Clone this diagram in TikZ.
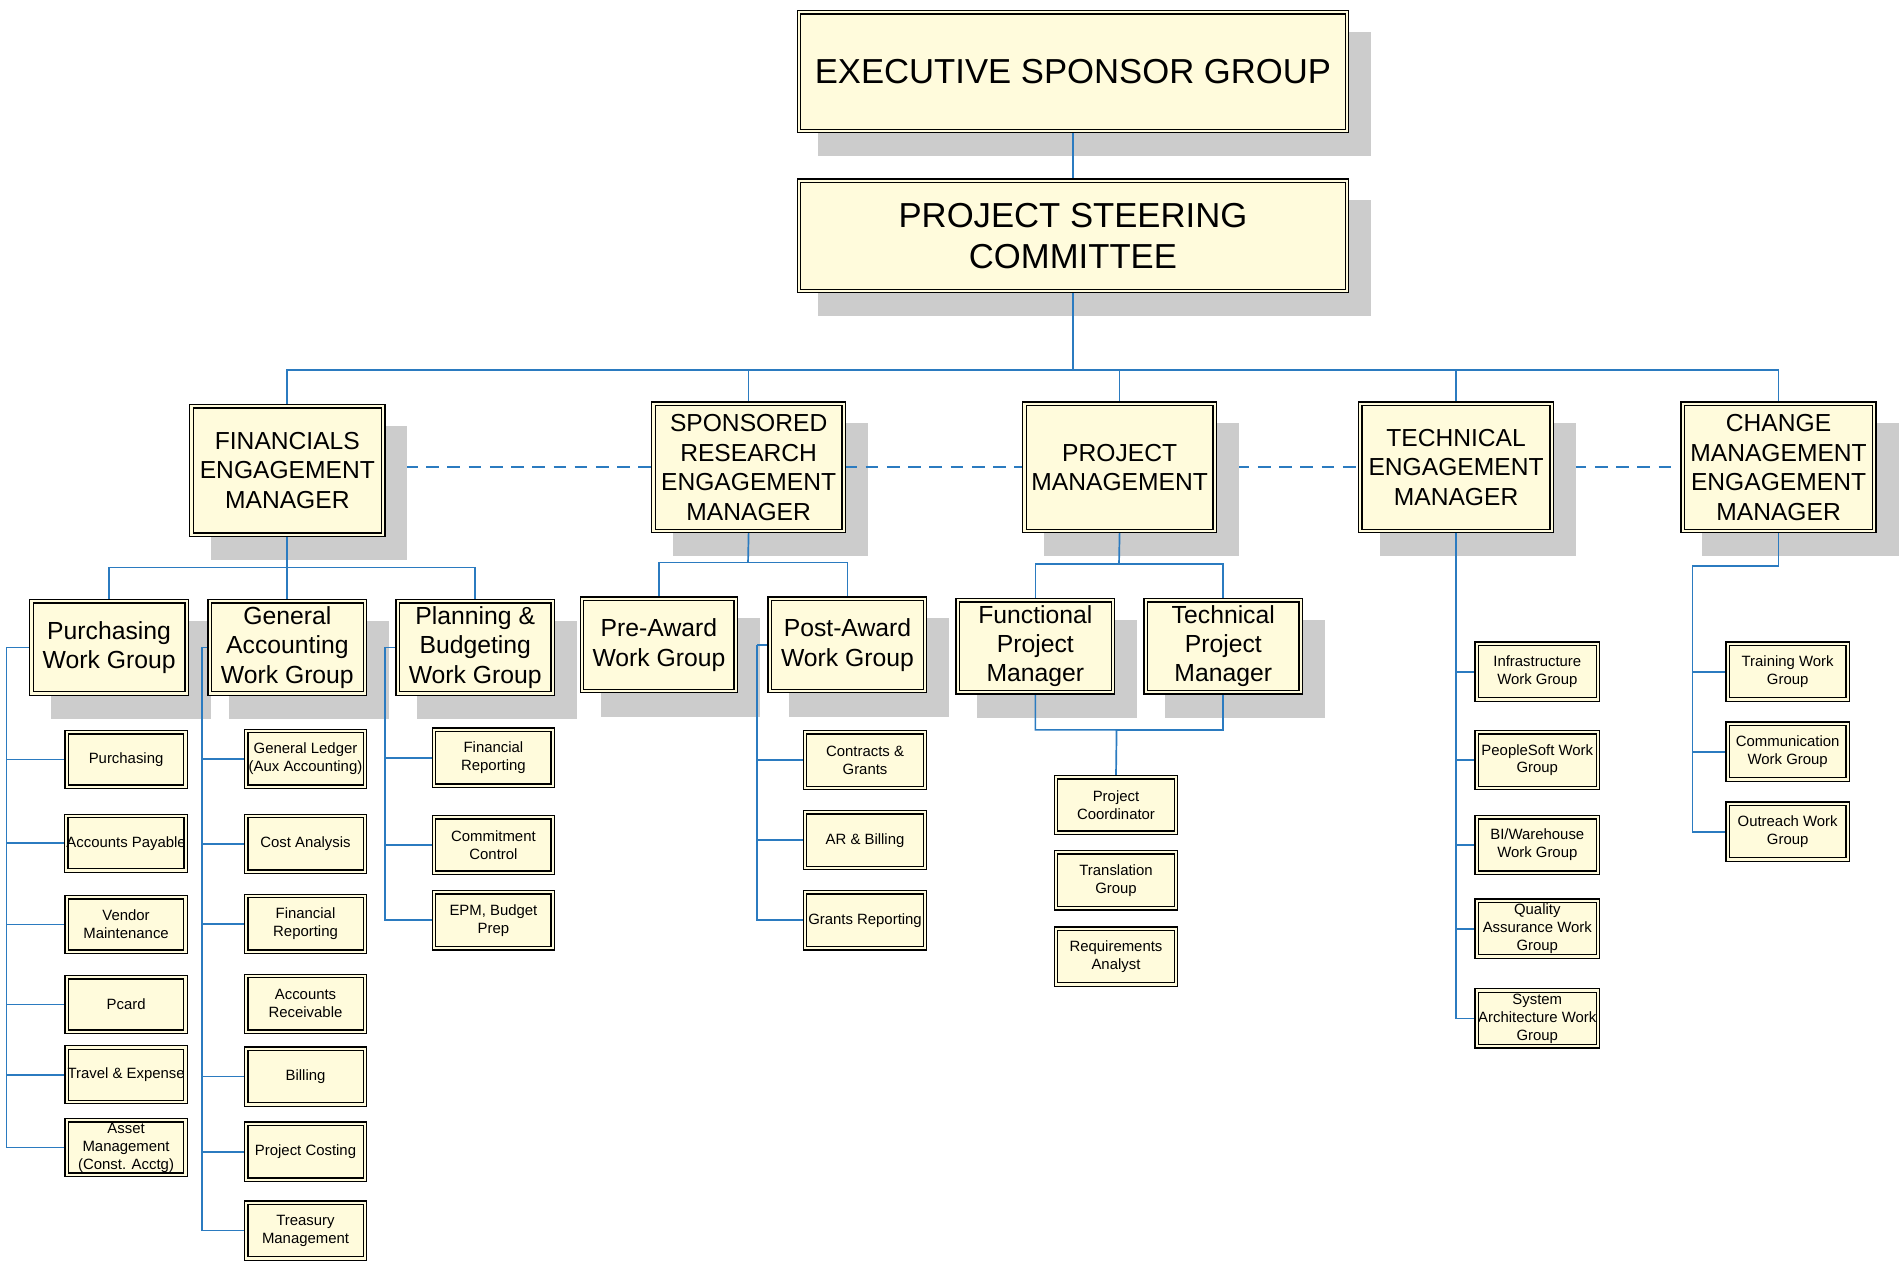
\documentclass[tikz,border=0pt]{standalone}
\usepackage{fontspec}
\setmainfont{Liberation Sans}
\definecolor{cream}{HTML}{FFFBDC}
\definecolor{shadowgray}{HTML}{CCCCCC}
\definecolor{lineblue}{HTML}{2B7BC0}
\pgfdeclarelayer{bglayer}
\pgfdeclarelayer{shadowlayer}
\pgfdeclarelayer{linelayer}
\pgfsetlayers{bglayer,shadowlayer,linelayer,main}
\tikzset{
  boxbase/.style={draw=black, line width=1.1pt, double=cream, double distance=1.8pt,
    fill=cream, align=center, inner sep=0pt, text=black},
  topbox/.style={boxbase, font=\fontsize{28.6}{34}\selectfont},
  midbox/.style={boxbase, font=\fontsize{20.3}{24.4}\selectfont},
  grpbox/.style={boxbase, font=\fontsize{20.4}{24.2}\selectfont},
  leafbox/.style={boxbase, font=\fontsize{12.3}{14.8}\selectfont},
  conn/.style={draw=lineblue, line width=1.4pt},
  connthick/.style={draw=lineblue, line width=2pt},
  dashconn/.style={draw=lineblue, line width=1.3pt, dash pattern=on 10.5pt off 7pt},
}
% name, style, x1, y1, x2, y2, text
\newcommand\bx[7]{\node[#2, minimum width={(#5-#3-4)*1pt}, minimum height={(#6-#4-4)*1pt}] (#1) at ({(#3+#5)/2},{(#4+#6)/2}) {#7};}
\newcommand\sbx[7]{\begin{pgfonlayer}{shadowlayer}\fill[shadowgray] ({#3+18},{#4+18}) rectangle ({#5+18},{#6+19});\end{pgfonlayer}\bx{#1}{#2}{#3}{#4}{#5}{#6}{#7}}
\begin{document}
\begin{tikzpicture}[x=1pt,y=-1pt]
\useasboundingbox (0,0) rectangle (1568,1046);
% top
\sbx{ESG}{topbox}{657}{8}{1113}{110}{EXECUTIVE SPONSOR GROUP}
\sbx{PSC}{topbox}{657}{147}{1113}{242}{PROJECT STEERING\\COMMITTEE}
% level 2
\sbx{FEM}{midbox}{156}{333}{318}{443}{FINANCIALS\\ENGAGEMENT\\MANAGER}
\sbx{SREM}{midbox}{537}{331}{698}{440}{SPONSORED\\RESEARCH\\ENGAGEMENT\\MANAGER}
\sbx{PM}{midbox}{843}{331}{1004}{440}{PROJECT\\MANAGEMENT}
\sbx{TEM}{midbox}{1120}{331}{1282}{440}{TECHNICAL\\ENGAGEMENT\\MANAGER}
\sbx{CMEM}{midbox}{1386}{331}{1548}{440}{CHANGE\\MANAGEMENT\\ENGAGEMENT\\MANAGER}
% level 3
\sbx{PWG}{grpbox}{24}{494}{156}{574}{Purchasing\\Work Group}
\sbx{GAWG}{grpbox}{171}{494}{303}{574}{General\\Accounting\\Work Group}
\sbx{PBWG}{grpbox}{326}{494}{458}{574}{Planning \&\\Budgeting\\Work Group}
\sbx{PAWG}{grpbox}{478}{492}{609}{572}{Pre-Award\\Work Group}
\sbx{POWG}{grpbox}{633}{492}{765}{572}{Post-Award\\Work Group}
\sbx{FPM}{grpbox}{788}{493}{920}{573}{Functional\\Project\\Manager}
\sbx{TPM}{grpbox}{943}{493}{1075}{573}{Technical\\Project\\Manager}
% purchasing leaves
\bx{pu1}{leafbox}{53}{602}{155}{651}{Purchasing}
\bx{pu2}{leafbox}{53}{671}{155}{720}{Accounts Payable}
\bx{pu3}{leafbox}{53}{738}{155}{787}{Vendor\\Maintenance}
\bx{pu4}{leafbox}{53}{804}{155}{853}{Pcard}
\bx{pu5}{leafbox}{53}{862}{155}{911}{Travel \& Expense}
\bx{pu6}{leafbox}{53}{922}{155}{971}{Asset\\Management\\(Const. Acctg)}
% general accounting leaves
\bx{ga1}{leafbox}{201}{601}{303}{651}{General Ledger\\(Aux Accounting)}
\bx{ga2}{leafbox}{201}{671}{303}{721}{Cost Analysis}
\bx{ga3}{leafbox}{201}{737}{303}{787}{Financial\\Reporting}
\bx{ga4}{leafbox}{201}{803}{303}{853}{Accounts\\Receivable}
\bx{ga5}{leafbox}{201}{863}{303}{913}{Billing}
\bx{ga6}{leafbox}{201}{925}{303}{975}{Project Costing}
\bx{ga7}{leafbox}{201}{990}{303}{1040}{Treasury\\Management}
% planning leaves
\bx{pb1}{leafbox}{356}{600}{458}{650}{Financial\\Reporting}
\bx{pb2}{leafbox}{356}{672}{458}{722}{Commitment\\Control}
\bx{pb3}{leafbox}{356}{734}{458}{784}{EPM, Budget\\Prep}
% post-award leaves
\bx{po1}{leafbox}{662}{602}{765}{652}{Contracts \&\\Grants}
\bx{po2}{leafbox}{662}{668}{765}{718}{AR \& Billing}
\bx{po3}{leafbox}{662}{734}{765}{784}{Grants Reporting}
% project management leaves
\bx{pm1}{leafbox}{869}{639}{972}{689}{Project\\Coordinator}
\bx{pm2}{leafbox}{869}{701}{972}{751}{Translation\\Group}
\bx{pm3}{leafbox}{869}{764}{972}{814}{Requirements\\Analyst}
% technical leaves
\bx{te1}{leafbox}{1216}{529}{1320}{579}{Infrastructure\\Work Group}
\bx{te2}{leafbox}{1216}{602}{1320}{652}{PeopleSoft Work\\Group}
\bx{te3}{leafbox}{1216}{672}{1320}{722}{BI/Warehouse\\Work Group}
\bx{te4}{leafbox}{1216}{741}{1320}{791}{Quality\\Assurance Work\\Group}
\bx{te5}{leafbox}{1216}{815}{1320}{865}{System\\Architecture Work\\Group}
% change management leaves
\bx{cm1}{leafbox}{1423}{529}{1526}{579}{Training Work\\Group}
\bx{cm2}{leafbox}{1423}{595}{1526}{645}{Communication\\Work Group}
\bx{cm3}{leafbox}{1423}{661}{1526}{711}{Outreach Work\\Group}
% junction coordinates
\coordinate (bus) at (885,305);
\coordinate (fb) at (237,468);
\coordinate (sb) at (617,464);
\coordinate (pb) at (923,465);
\coordinate (pmj) at (921,602);
\coordinate (cmj) at (1396,467);
\coordinate (dl) at (0,385);
% dashed lines
\begin{pgfonlayer}{bglayer}
\draw[dashconn] (FEM.east |- dl) -- (SREM.west |- dl);
\draw[dashconn] (PM.east |- dl) -- (TEM.west |- dl);
\draw[dashconn] (TEM.east |- dl) -- (CMEM.west |- dl);
\end{pgfonlayer}
\begin{pgfonlayer}{linelayer}
\draw[dashconn] (SREM.east |- dl) -- (PM.west |- dl);
% top
\draw[conn] (ESG.south) -- (PSC.north);
\draw[connthick] (PSC.south) -- (bus);
\draw[conn] (bus) -| (FEM.north);
\draw[conn] (bus) -| (SREM.north);
\draw[connthick] (bus) -- (bus -| CMEM.north);
\draw[conn] (bus -| PM.north) -- (PM.north);
\draw[conn] (bus -| TEM.north) -- (TEM.north);
\draw[conn] (bus -| CMEM.north) -- (CMEM.north);
% financials
\draw[conn] (FEM.south) -- (fb) -- (GAWG.north);
\draw[conn] (fb) -| (PWG.north);
\draw[conn] (fb) -| (PBWG.north);
% sponsored
\draw[conn] (SREM.south) -- (sb);
\draw[conn] (sb) -| (PAWG.north);
\draw[conn] (sb) -| (POWG.north);
% project management
\draw[conn] (PM.south) -- (pb);
\draw[conn] (pb) -| (FPM.north);
\draw[conn] (pb) -| (TPM.north);
\draw[conn] (FPM.south) |- (pmj) -- (pm1.north);
\draw[conn] (TPM.south) |- (pmj);
% purchasing
\draw[conn] (PWG.west) -- ++(-20,0) coordinate (pv);
\foreach \n in {pu1,pu2,pu3,pu4,pu5,pu6} \draw[conn] (pv) |- (\n.west);
% general accounting
\draw[conn] (GAWG.west) -- ++(-6,0) coordinate (gv);
\foreach \n in {ga1,ga2,ga3,ga5,ga6,ga7} \draw[conn] (gv) |- (\n.west);
% planning
\draw[conn] (PBWG.west) -- ++(-10,0) coordinate (bv);
\foreach \n in {pb1,pb2,pb3} \draw[conn] (bv) |- (\n.west);
% post-award
\draw[conn] (POWG.west) -- ++(-10,0) coordinate (ov);
\foreach \n in {po1,po2,po3} \draw[conn] (ov) |- (\n.west);
% technical
\foreach \n in {te1,te2,te3,te4,te5} \draw[conn] (TEM.south) |- (\n.west);
% change management
\draw[conn] (CMEM.south) |- (cmj);
\foreach \n in {cm1,cm2,cm3} \draw[conn] (cmj) |- (\n.west);
\end{pgfonlayer}
\end{tikzpicture}
\end{document}
